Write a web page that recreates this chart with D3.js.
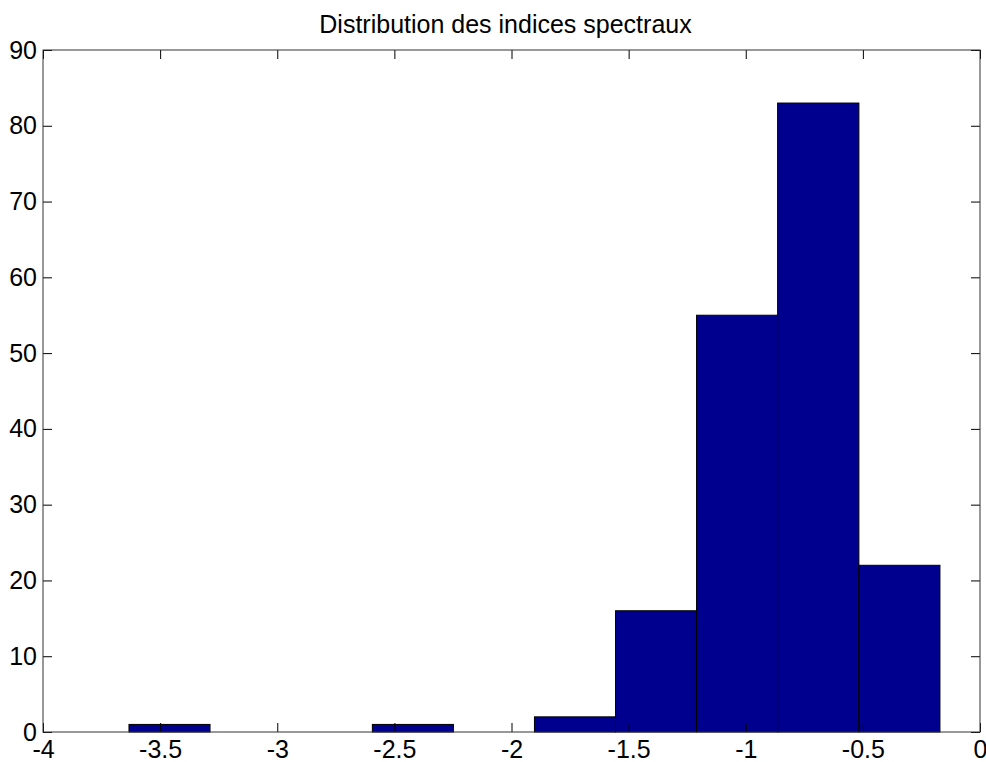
<!DOCTYPE html>
<html>
<head>
<meta charset="utf-8">
<script src="https://cdn.jsdelivr.net/npm/d3@7"></script>
<style>
  body { margin: 0; background: #fff; }
  svg text { font-family: "Liberation Sans", Arial, sans-serif; fill: #000; }
</style>
</head>
<body>
<div id="graphic"></div>
<script>
// histogram bins
var binEdges = [-3.633, -3.287, -2.941, -2.594, -2.248, -1.902, -1.556, -1.210, -0.864, -0.517, -0.171];
var counts = [1, 0, 0, 1, 0, 2, 16, 55, 83, 22];
var xTicks = [-4, -3.5, -3, -2.5, -2, -1.5, -1, -0.5, 0];
var yTicks = [0, 10, 20, 30, 40, 50, 60, 70, 80, 90];
var title = "Distribution des indices spectraux";

var data = counts.map(function(c, i) {
  return {x0: binEdges[i], x1: binEdges[i + 1], value: c};
});

var margin = {top: 50, right: 6, bottom: 30, left: 43},
    width = 986 - margin.left - margin.right,
    height = 762 - margin.top - margin.bottom;

var svg = d3.select("#graphic").append("svg")
    .attr("width", 986)
    .attr("height", 762)
  .append("g")
    .attr("transform", "translate(" + margin.left + "," + margin.top + ")");

var x = d3.scaleLinear().domain([-4, 0]).range([0, width]);
var y = d3.scaleLinear().domain([0, 90]).range([height, 0]);

// bars
svg.selectAll(".bar")
    .data(data.filter(function(d) { return d.value > 0; }))
  .enter().append("rect")
    .attr("class", "bar")
    .attr("x", function(d) { return x(d.x0); })
    .attr("width", function(d) { return x(d.x1) - x(d.x0); })
    .attr("y", function(d) { return y(d.value); })
    .attr("height", function(d) { return y(0) - y(d.value); })
    .style("fill", "#00008f")
    .style("stroke", "#000")
    .style("stroke-width", 1);

// axes, matlab style: ticks pointing inward on all four sides
function styleAxis(g) {
  g.select(".domain").remove();
  g.selectAll(".tick line").attr("stroke", "#000");
  g.selectAll(".tick text").style("font-size", "25px");
}

svg.append("g")
    .attr("transform", "translate(0," + height + ")")
    .call(d3.axisBottom(x).tickValues(xTicks).tickSize(-9).tickPadding(8)
      .tickFormat(function(d) { return String(d); }))
    .call(styleAxis);

svg.append("g")
    .call(d3.axisTop(x).tickValues(xTicks).tickSize(-9).tickFormat(""))
    .call(styleAxis);

svg.append("g")
    .call(d3.axisLeft(y).tickValues(yTicks).tickSize(-9).tickPadding(6))
    .call(styleAxis);

svg.append("g")
    .attr("transform", "translate(" + width + ",0)")
    .call(d3.axisRight(y).tickValues(yTicks).tickSize(-9).tickFormat(""))
    .call(styleAxis);

// box
svg.append("rect")
    .attr("width", width)
    .attr("height", height)
    .style("fill", "none")
    .style("stroke", "#333")
    .style("stroke-width", 1);

svg.append("text")
    .attr("x", width / 2 - 6)
    .attr("y", -17)
    .attr("text-anchor", "middle")
    .style("font-size", "25px")
    .text(title);
</script>
</body>
</html>
